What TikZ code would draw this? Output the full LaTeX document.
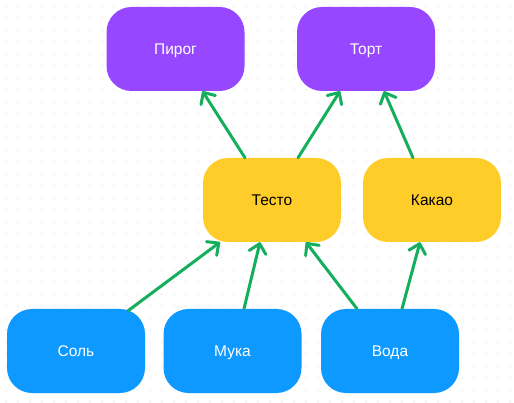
\documentclass[tikz,border=0pt]{standalone}
\usepackage{fontspec}
\setmainfont{Liberation Sans}
\usetikzlibrary{arrows.meta,calc}
\definecolor{bpurple}{HTML}{9747FF}
\definecolor{byellow}{HTML}{FFCD29}
\definecolor{bblue}{HTML}{0D99FF}
\definecolor{agreen}{HTML}{14AE5C}
\definecolor{dotgray}{HTML}{CFCFCF}
\tikzset{
  box/.style={rounded corners=25pt, minimum width=138pt, minimum height=84pt, inner sep=0pt, text depth=0pt, font=\fontsize{15.5}{18}\selectfont},
  topbox/.style={box, fill=bpurple, text=white},
  midbox/.style={box, fill=byellow, text=black},
  botbox/.style={box, fill=bblue, text=white},
  conn/.style={agreen, line width=3pt, line cap=round, -{Straight Barb[length=9pt,width=17pt,line cap=round,line join=round]}},
}
\begin{document}
\begin{tikzpicture}[x=1pt,y=-1pt]
\useasboundingbox (0,0) rectangle (514,403);
\fill[white] (0,0) rectangle (514,403);
\foreach \i in {0,...,42} {
  \foreach \j in {0,...,33} {
    \fill[dotgray] (6+12*\i,6+12*\j) circle (0.7pt);
  }
}
\node[topbox] (pirog) at (175.5,49) {Пирог};
\node[topbox] (tort) at (366,49) {Торт};
\node[midbox] (testo) at (272,200) {Тесто};
\node[midbox] (kakao) at (432,200) {Какао};
\node[botbox] (sol) at (76,351) {Соль};
\node[botbox] (muka) at (232.5,351) {Мука};
\node[botbox] (voda) at (390,351) {Вода};
\draw[conn] ($(testo.north)+(-27,0)$) -- ($(pirog.south)+(27,0)$);
\draw[conn] ($(testo.north)+(26,0)$) -- ($(tort.south)+(-26,0)$);
\draw[conn] ($(kakao.north)+(-19,0)$) -- ($(tort.south)+(18,0)$);
\draw[conn] ($(sol.north)+(52,2)$) -- ($(testo.south)+(-52,0)$);
\draw[conn] ($(muka.north)+(11.5,0)$) -- ($(testo.south)+(-12,0)$);
\draw[conn] ($(voda.north)+(-33,0)$) -- ($(testo.south)+(34,0)$);
\draw[conn] ($(voda.north)+(12,0)$) -- ($(kakao.south)+(-12,0)$);
\end{tikzpicture}
\end{document}
